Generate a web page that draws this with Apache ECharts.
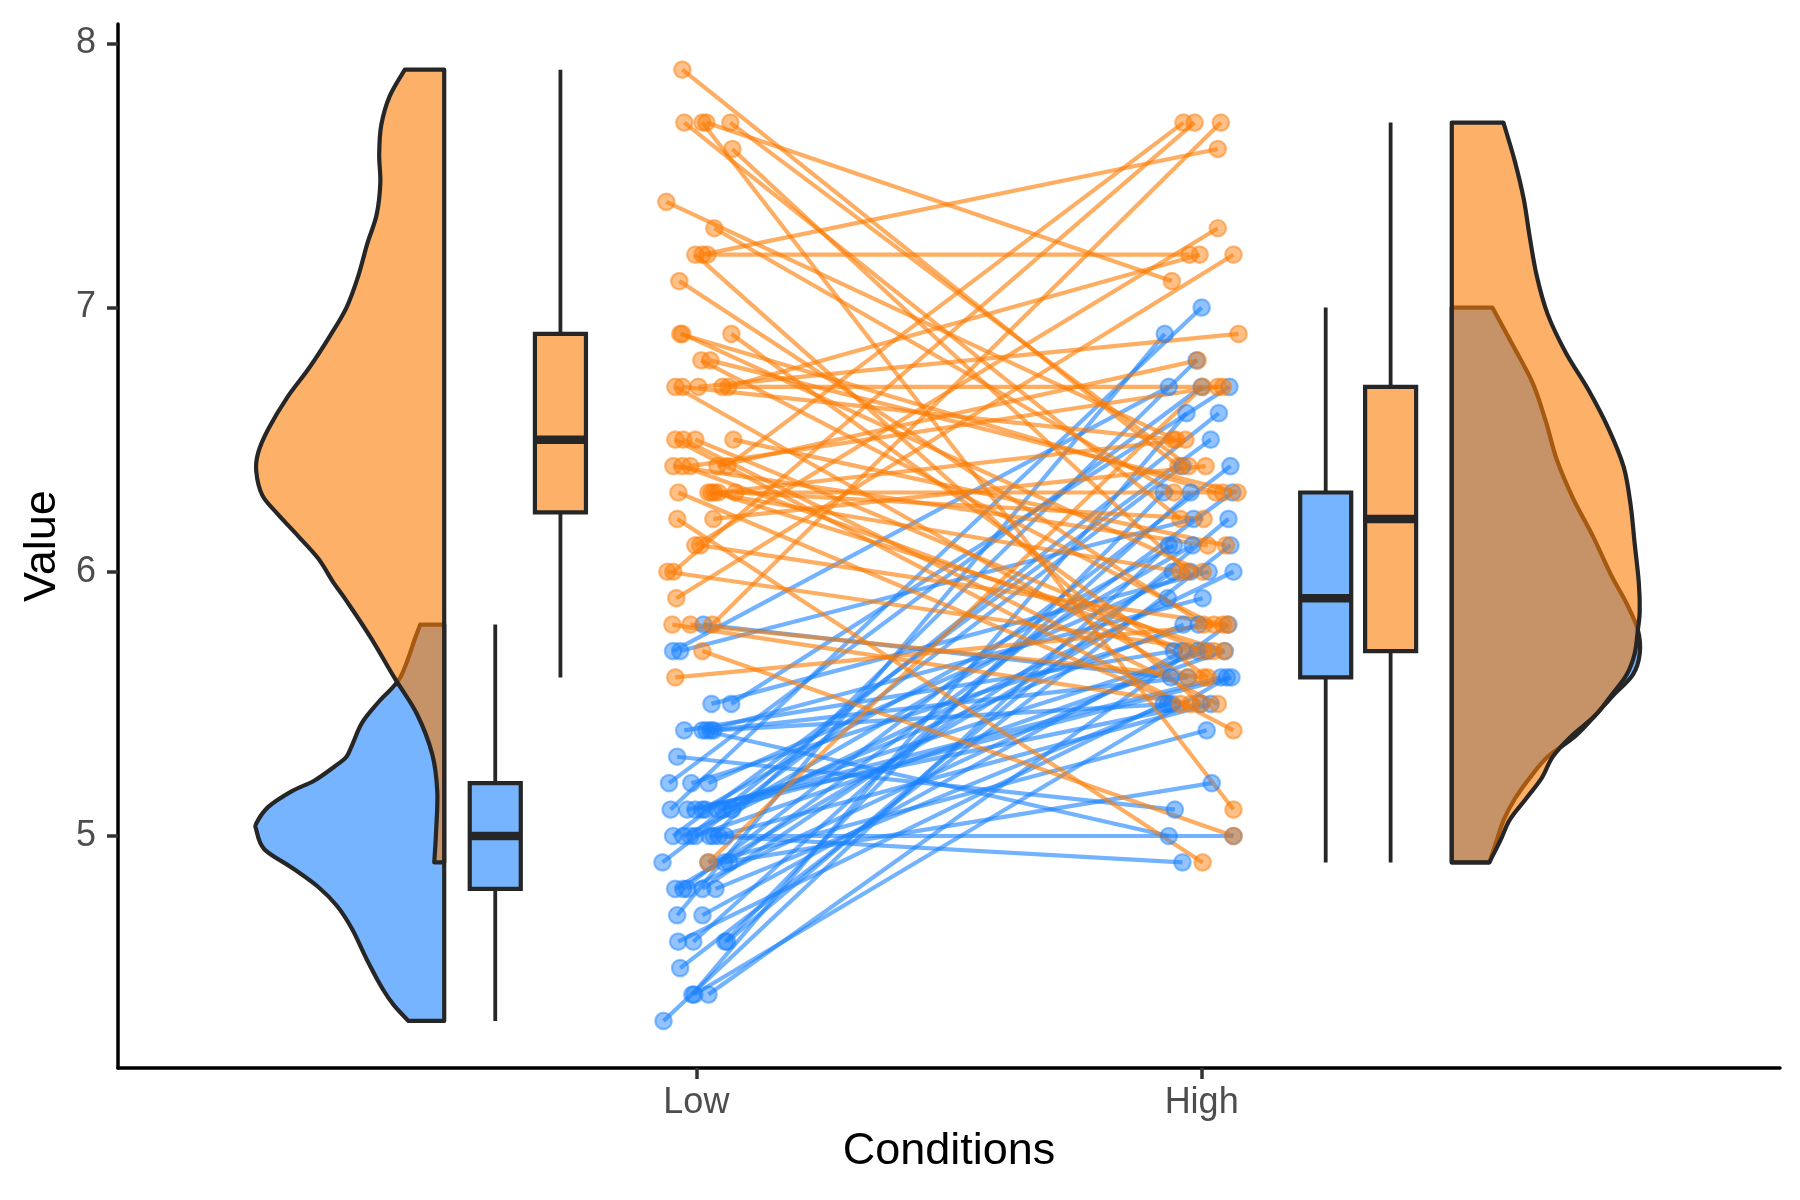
<!DOCTYPE html>
<html>
<head>
<meta charset="utf-8">
<script src="https://cdn.jsdelivr.net/npm/echarts@6/dist/echarts.min.js"></script>
<style>
html, body { margin: 0; padding: 0; background: #ffffff; }
#chart { width: 1800px; height: 1200px; }
</style>
</head>
<body>
<div id="chart"></div>
<script>
// ---------------- data ----------------
const conditionPositions = [1, 2];
const conditionLabels = ['Low', 'High'];
const valueTicks = [5, 6, 7, 8];

// group 1 (blue): values per subject in Low and High condition
const blueLow = [5.1,4.9,4.7,4.6,5.0,5.4,4.6,5.0,4.4,4.9,5.4,4.8,4.8,4.3,5.8,5.7,5.4,5.1,5.7,5.1,5.4,5.1,4.6,5.1,4.8,5.0,5.0,5.2,5.2,4.7,4.8,5.4,5.2,5.5,4.9,5.0,5.5,4.9,4.4,5.1,5.0,4.5,4.4,5.0,5.1,4.8,5.1,4.6,5.3,5.0];
const blueHigh = [7.0,6.4,6.9,5.5,6.5,5.7,6.3,4.9,6.6,5.2,5.0,5.9,6.0,6.1,5.6,6.7,5.6,5.8,6.2,5.6,5.9,6.1,6.3,6.1,6.4,6.6,6.8,6.7,6.0,5.7,5.5,5.5,5.8,6.0,5.4,6.0,6.7,6.3,5.6,5.5,5.5,6.1,5.8,5.0,5.6,5.7,5.7,6.2,5.1,5.7];
// group 2 (orange)
const orangeLow = [6.3,5.8,7.1,6.3,6.5,7.6,4.9,7.3,6.7,7.2,6.5,6.4,6.8,5.7,5.8,6.4,6.5,7.7,7.7,6.0,6.9,5.6,7.7,6.3,6.7,7.2,6.2,6.1,6.4,7.2,7.4,7.9,6.4,6.3,6.1,7.7,6.3,6.4,6.0,6.9,6.7,6.9,5.8,6.8,6.7,6.7,6.3,6.5,6.2,5.9];
const orangeHigh = [5.5,5.5,5.8,6.0,5.4,6.0,6.7,6.3,5.6,5.5,5.5,6.1,5.8,5.0,5.6,5.7,5.7,6.2,5.1,5.7,6.3,5.8,7.1,6.3,6.5,7.6,4.9,7.3,6.7,7.2,6.5,6.4,6.8,5.7,5.8,6.4,6.5,7.7,7.7,6.0,6.9,5.6,7.7,6.3,6.7,7.2,6.2,6.1,6.4,7.2];

// jittered x (condition axis units)
const blueLowX = [0.949,0.933,0.962,0.964,0.954,0.976,1.057,1.026,0.992,1.055,1.012,0.958,1.012,0.935,1.014,0.954,1.028,1.053,0.968,0.998,1.020,1.012,0.994,1.071,0.974,0.988,1.034,0.946,1.024,1.012,1.038,1.034,0.990,1.030,1.024,0.974,1.069,1.065,0.996,0.982,1.044,0.968,1.024,1.057,1.042,0.982,1.018,1.061,0.962,0.998];
const blueHighX = [2.000,1.962,1.927,1.925,2.018,1.945,1.925,1.962,1.970,2.020,1.935,1.933,1.943,1.935,1.939,1.935,1.972,1.964,1.984,2.038,2.002,1.945,1.978,1.982,2.057,2.034,1.990,2.000,1.978,1.962,1.933,1.941,1.994,2.014,2.010,2.063,2.055,2.061,2.050,1.998,2.018,2.057,2.053,2.063,2.059,1.992,2.012,2.053,1.947,2.046];
const orangeLowX = [0.9644,0.9525,0.9663,1.0238,0.9584,1.0713,1.0238,1.0356,0.9584,0.9980,0.9743,0.9545,1.0099,1.0119,0.9881,0.9723,0.9980,0.9762,1.0119,0.9426,0.9683,0.9584,1.0198,1.0297,0.9723,1.0119,0.9624,0.9980,0.9881,1.0218,0.9406,0.9723,1.0416,1.0356,1.0079,1.0673,1.0436,1.0614,0.9545,0.9723,1.0040,1.0693,1.0317,1.0277,1.0515,1.0634,1.0772,1.0733,1.0337,0.9604];
const orangeHighX = [1.958,1.978,2.004,1.958,2.063,1.972,2.002,1.945,1.974,1.998,2.032,2.012,2.024,2.063,2.004,1.972,2.004,1.958,2.063,2.024,2.028,2.042,1.941,2.042,1.943,2.032,2.002,2.032,2.032,1.976,1.949,1.954,1.992,2.044,2.051,1.974,1.968,1.964,1.986,2.002,2.073,2.012,2.038,2.071,2.042,1.996,2.004,2.048,2.008,2.063];

// half-violin outlines: [value, relative density] top -> bottom
const blueLowDensity = [[5.8,0.128],[5.75,0.154],[5.60,0.234],[5.51,0.346],[5.43,0.436],[5.344,0.49],[5.30,0.52],[5.27,0.57],[5.21,0.69],[5.17,0.81],[5.11,0.936],[5.05,0.998],[5.024,1.0],[4.95,0.957],[4.88,0.81],[4.807,0.67],[4.735,0.57],[4.648,0.49],[4.53,0.41],[4.417,0.324],[4.358,0.266],[4.3,0.19]];
const orangeLowDensity = [[7.9,0.21],[7.80,0.29],[7.69,0.335],[7.58,0.346],[7.47,0.34],[7.35,0.36],[7.24,0.41],[7.12,0.457],[7.00,0.52],[6.89,0.61],[6.77,0.72],[6.66,0.835],[6.54,0.936],[6.45,0.99],[6.38,1.0],[6.29,0.968],[6.22,0.888],[6.135,0.777],[6.05,0.67],[5.96,0.59],[5.89,0.52],[5.75,0.39],[5.60,0.266],[5.46,0.144],[5.31,0.064],[5.17,0.037],[5.02,0.043],[4.9,0.053]];
const blueHighDensity = [[7.0,0.216],[6.86,0.323],[6.715,0.43],[6.57,0.5],[6.426,0.558],[6.28,0.644],[6.136,0.75],[5.99,0.846],[5.88,0.93],[5.78,0.99],[5.69,1.0],[5.61,0.963],[5.53,0.856],[5.454,0.76],[5.376,0.654],[5.30,0.51],[5.22,0.415],[5.14,0.335],[5.062,0.277],[4.985,0.24],[4.9,0.2]];
const orangeHighDensity = [[7.7,0.275],[7.555,0.335],[7.41,0.383],[7.266,0.415],[7.12,0.452],[6.975,0.51],[6.83,0.606],[6.686,0.729],[6.54,0.835],[6.396,0.915],[6.25,0.952],[6.107,0.973],[5.96,0.995],[5.85,1.0],[5.78,0.99],[5.69,0.973],[5.61,0.93],[5.53,0.846],[5.454,0.76],[5.376,0.633],[5.30,0.537],[5.22,0.479],[5.14,0.394],[5.062,0.309],[4.985,0.26],[4.9,0.2]];

// ---------------- layout / style constants ----------------
const BLUE = [28, 130, 255];
const ORANGE = [252, 124, 4];
const rgba = (c, a) => `rgba(${c[0]},${c[1]},${c[2]},${a})`;
const OUTLINE = '#262626';
const FONT = "'Liberation Sans', Arial, Helvetica, sans-serif";
const VIOLIN_WIDTH = 0.372;
const BOX_WIDTH = 0.101;

// ---------------- helpers ----------------
function quantile7(sorted, p) {
  const h = (sorted.length - 1) * p;
  const lo = Math.floor(h), hi = Math.ceil(h);
  return sorted[lo] + (h - lo) * (sorted[hi] - sorted[lo]);
}
function boxStats(values) {
  const s = values.slice().sort((a, b) => a - b);
  const q1 = quantile7(s, 0.25), med = quantile7(s, 0.5), q3 = quantile7(s, 0.75);
  const iqr = q3 - q1;
  const lo = s.find(v => v >= q1 - 1.5 * iqr - 1e-9);
  const hi = s.slice().reverse().find(v => v <= q3 + 1.5 * iqr + 1e-9);
  return [lo, q1, med, q3, hi];
}

function segData(xa, ya, xb, yb) {
  return ya.map((v, i) => [xa[i], v, xb[i], yb[i]]);
}
function pointData(xs, ys) {
  return ys.map((v, i) => [xs[i], v]);
}

function smoothSegment(pts) {
  let d = '';
  for (let i = 0; i < pts.length - 1; i++) {
    const p0 = pts[i - 1] || pts[i];
    const p1 = pts[i];
    const p2 = pts[i + 1];
    const p3 = pts[i + 2] || pts[i + 1];
    const c1 = [p1[0] + (p2[0] - p0[0]) / 6, p1[1] + (p2[1] - p0[1]) / 6];
    const c2 = [p2[0] - (p3[0] - p1[0]) / 6, p2[1] - (p3[1] - p1[1]) / 6];
    d += ` C${c1[0].toFixed(2)},${c1[1].toFixed(2)} ${c2[0].toFixed(2)},${c2[1].toFixed(2)} ${p2[0].toFixed(2)},${p2[1].toFixed(2)}`;
  }
  return d;
}

const violins = [
  { profile: blueLowDensity, base: 0.501, dir: -1, fill: rgba(BLUE, 0.6) },
  { profile: orangeLowDensity, base: 0.501, dir: -1, fill: rgba(ORANGE, 0.6) },
  { profile: blueHighDensity, base: 2.495, dir: 1, fill: rgba(BLUE, 0.6) },
  { profile: orangeHighDensity, base: 2.495, dir: 1, fill: rgba(ORANGE, 0.6) }
];

const boxes = [
  { x: 0.602, stats: boxStats(blueLow), fill: rgba(BLUE, 0.6) },
  { x: 0.731, stats: boxStats(orangeLow), fill: rgba(ORANGE, 0.6) },
  { x: 2.2455, stats: boxStats(blueHigh), fill: rgba(BLUE, 0.6) },
  { x: 2.374, stats: boxStats(orangeHigh), fill: rgba(ORANGE, 0.6) }
];

function lineRenderer(color) {
  return function (params, api) {
    const p1 = api.coord([api.value(0), api.value(1)]);
    const p2 = api.coord([api.value(2), api.value(3)]);
    return {
      type: 'line',
      shape: { x1: p1[0], y1: p1[1], x2: p2[0], y2: p2[1] },
      style: { stroke: color, lineWidth: 4.2, fill: null }
    };
  };
}

function violinRenderer(params, api) {
  const v = violins[params.dataIndex];
  const prof = v.profile;
  const top = api.coord([v.base, prof[0][0]]);
  const bottom = api.coord([v.base, prof[prof.length - 1][0]]);
  const pts = prof.map(p => api.coord([v.base + v.dir * p[1] * VIOLIN_WIDTH, p[0]]));
  let d = `M${top[0].toFixed(2)},${top[1].toFixed(2)} L${pts[0][0].toFixed(2)},${pts[0][1].toFixed(2)}`;
  d += smoothSegment(pts);
  d += ` L${bottom[0].toFixed(2)},${bottom[1].toFixed(2)} Z`;
  return {
    type: 'path',
    shape: { pathData: d },
    style: { fill: v.fill, stroke: OUTLINE, lineWidth: 4.2, lineJoin: 'round' }
  };
}

function boxRenderer(params, api) {
  const b = boxes[params.dataIndex];
  const [lo, q1, med, q3, hi] = b.stats;
  const c = api.coord([b.x, med]);
  const left = api.coord([b.x - BOX_WIDTH / 2, med])[0];
  const right = api.coord([b.x + BOX_WIDTH / 2, med])[0];
  const yLo = api.coord([b.x, lo])[1];
  const yQ1 = api.coord([b.x, q1])[1];
  const yQ3 = api.coord([b.x, q3])[1];
  const yHi = api.coord([b.x, hi])[1];
  return {
    type: 'group',
    children: [
      { type: 'line', shape: { x1: c[0], y1: yHi, x2: c[0], y2: yQ3 }, style: { stroke: OUTLINE, lineWidth: 3.8 } },
      { type: 'line', shape: { x1: c[0], y1: yQ1, x2: c[0], y2: yLo }, style: { stroke: OUTLINE, lineWidth: 3.8 } },
      { type: 'rect', shape: { x: left, y: yQ3, width: right - left, height: yQ1 - yQ3 }, style: { fill: b.fill, stroke: OUTLINE, lineWidth: 4.2 } },
      { type: 'line', shape: { x1: left, y1: c[1], x2: right, y2: c[1] }, style: { stroke: OUTLINE, lineWidth: 8.5 } }
    ]
  };
}

// ---------------- chart ----------------
const chart = echarts.init(document.getElementById('chart'), null, { renderer: 'canvas' });

const pointStyle = c => ({ color: rgba(c, 0.6), borderColor: rgba(c, 0.6), borderWidth: 2.2 });

const option = {
  backgroundColor: '#ffffff',
  animation: false,
  grid: { left: 118, right: 20, top: 24, bottom: 132 },
  xAxis: {
    type: 'value',
    min: -0.1446,
    max: 3.1446,
    name: 'Conditions',
    nameLocation: 'middle',
    nameGap: 61,
    nameTextStyle: { fontSize: 45, color: '#000000', fontFamily: FONT },
    axisLine: { show: true, onZero: false, lineStyle: { color: '#000000', width: 3.5 } },
    axisTick: { show: true, customValues: conditionPositions, length: 11, lineStyle: { color: '#333333', width: 3.5 } },
    axisLabel: {
      show: true,
      customValues: conditionPositions,
      formatter: v => conditionLabels[conditionPositions.indexOf(v)] || '',
      color: '#4d4d4d', fontSize: 36, margin: 17, fontFamily: FONT
    },
    splitLine: { show: false }
  },
  yAxis: {
    type: 'value',
    min: 4.122,
    max: 8.073,
    name: 'Value',
    nameLocation: 'middle',
    nameRotate: 90,
    nameGap: 53,
    nameTextStyle: { fontSize: 45, color: '#000000', fontFamily: FONT },
    axisLine: { show: true, onZero: false, lineStyle: { color: '#000000', width: 3.5 } },
    axisTick: { show: true, customValues: valueTicks, length: 11, lineStyle: { color: '#333333', width: 3.5 } },
    axisLabel: {
      show: true,
      customValues: valueTicks,
      formatter: v => String(v),
      color: '#4d4d4d', fontSize: 36, margin: 22, fontFamily: FONT
    },
    splitLine: { show: false }
  },
  series: [
    {
      type: 'custom', name: 'blue lines', silent: true,
      renderItem: lineRenderer(rgba(BLUE, 0.62)),
      encode: { x: [0, 2], y: [1, 3] },
      data: segData(blueLowX, blueLow, blueHighX, blueHigh)
    },
    {
      type: 'scatter', name: 'blue low', silent: true, symbol: 'circle', symbolSize: 16.5,
      itemStyle: pointStyle(BLUE),
      data: pointData(blueLowX, blueLow)
    },
    {
      type: 'scatter', name: 'blue high', silent: true, symbol: 'circle', symbolSize: 16.5,
      itemStyle: pointStyle(BLUE),
      data: pointData(blueHighX, blueHigh)
    },
    {
      type: 'custom', name: 'orange lines', silent: true,
      renderItem: lineRenderer(rgba(ORANGE, 0.62)),
      encode: { x: [0, 2], y: [1, 3] },
      data: segData(orangeLowX, orangeLow, orangeHighX, orangeHigh)
    },
    {
      type: 'scatter', name: 'orange low', silent: true, symbol: 'circle', symbolSize: 16.5,
      itemStyle: pointStyle(ORANGE),
      data: pointData(orangeLowX, orangeLow)
    },
    {
      type: 'scatter', name: 'orange high', silent: true, symbol: 'circle', symbolSize: 16.5,
      itemStyle: pointStyle(ORANGE),
      data: pointData(orangeHighX, orangeHigh)
    },
    {
      type: 'custom', name: 'violins', silent: true,
      renderItem: violinRenderer,
      encode: { x: 0, y: 1 },
      data: violins.map(v => [v.base, v.profile[0][0]])
    },
    {
      type: 'custom', name: 'boxes', silent: true,
      renderItem: boxRenderer,
      encode: { x: 0, y: 1 },
      data: boxes.map(b => [b.x, b.stats[2]])
    }
  ]
};

chart.setOption(option);
</script>
</body>
</html>
